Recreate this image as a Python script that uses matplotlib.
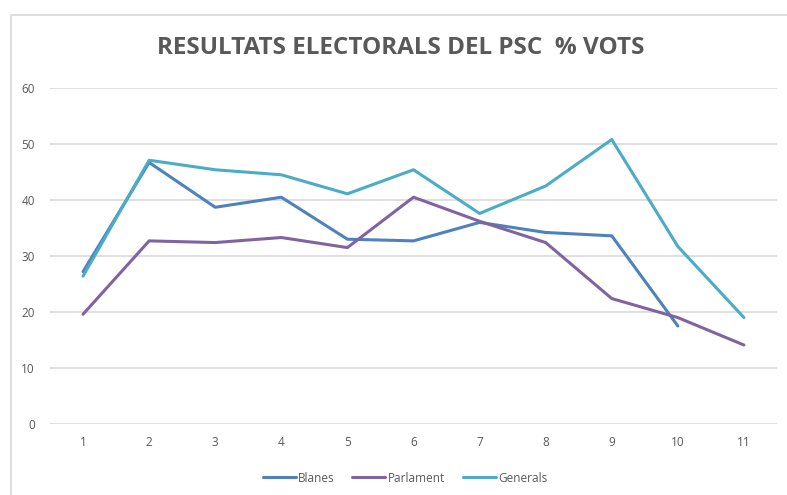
import numpy as np
import matplotlib
matplotlib.use('Agg')
import matplotlib.pyplot as plt
from matplotlib.patches import Rectangle

# data
categories = [1, 2, 3, 4, 5, 6, 7, 8, 9, 10, 11]
blanes = [27.2, 46.7, 38.7, 40.5, 33.0, 32.7, 36.0, 34.2, 33.6, 17.5, None]
parlament = [19.6, 32.7, 32.4, 33.3, 31.5, 40.5, 36.2, 32.4, 22.4, 19.0, 14.1]
generals = [26.4, 47.1, 45.4, 44.5, 41.1, 45.4, 37.6, 42.5, 50.8, 31.7, 19.0]
y_ticks = [0, 10, 20, 30, 40, 50, 60]

series = [
    ('Blanes', blanes, '#4F81BD'),
    ('Parlament', parlament, '#8064A2'),
    ('Generals', generals, '#4BACC6'),
]

plt.rcParams['font.family'] = ['Open Sans', 'DejaVu Sans']
grey = '#595959'

fig = plt.figure(figsize=(7.87, 4.95), dpi=100)
ax = fig.add_axes([50 / 787, 1 - 424 / 495, 727 / 787, 336 / 495])

x = np.arange(len(categories))
for name, vals, col in series:
    y = np.array([np.nan if v is None else v for v in vals], dtype=float)
    ax.plot(x, y, color=col, linewidth=2.2, label=name, solid_capstyle='round')

ax.set_xlim(-0.5, len(categories) - 0.5)
ax.set_ylim(0, 60)
ax.set_xticks(x)
ax.set_xticklabels([str(c) for c in categories])
ax.set_yticks(y_ticks)
ax.grid(axis='y', color='#D9D9D9', linewidth=1.2)
ax.set_axisbelow(True)
for s in ax.spines.values():
    s.set_visible(False)
ax.tick_params(length=0, labelsize=8.5, labelcolor=grey)
ax.tick_params(axis='y', pad=11)
ax.tick_params(axis='x', pad=9)

fig.text(401 / 787, 1 - 48 / 495, 'RESULTATS ELECTORALS DEL PSC  % VOTS',
         ha='center', va='center', fontsize=17.5, fontweight='bold', color=grey)

ax.legend(loc='center', bbox_to_anchor=(355 / 727, (424 - 478) / 336), ncol=3,
          frameon=False, fontsize=8.5, labelcolor=grey, handlelength=2.8,
          handletextpad=0.2, columnspacing=1.5)

# outer chart frame (cropped at right and bottom)
fig.patches.append(Rectangle((11 / 787, -0.1), 1.0, 1 - 15 / 495 + 0.1,
                             transform=fig.transFigure, fill=False,
                             edgecolor='#D9D9D9', linewidth=1.2))

fig.savefig('out.png', dpi=100)
